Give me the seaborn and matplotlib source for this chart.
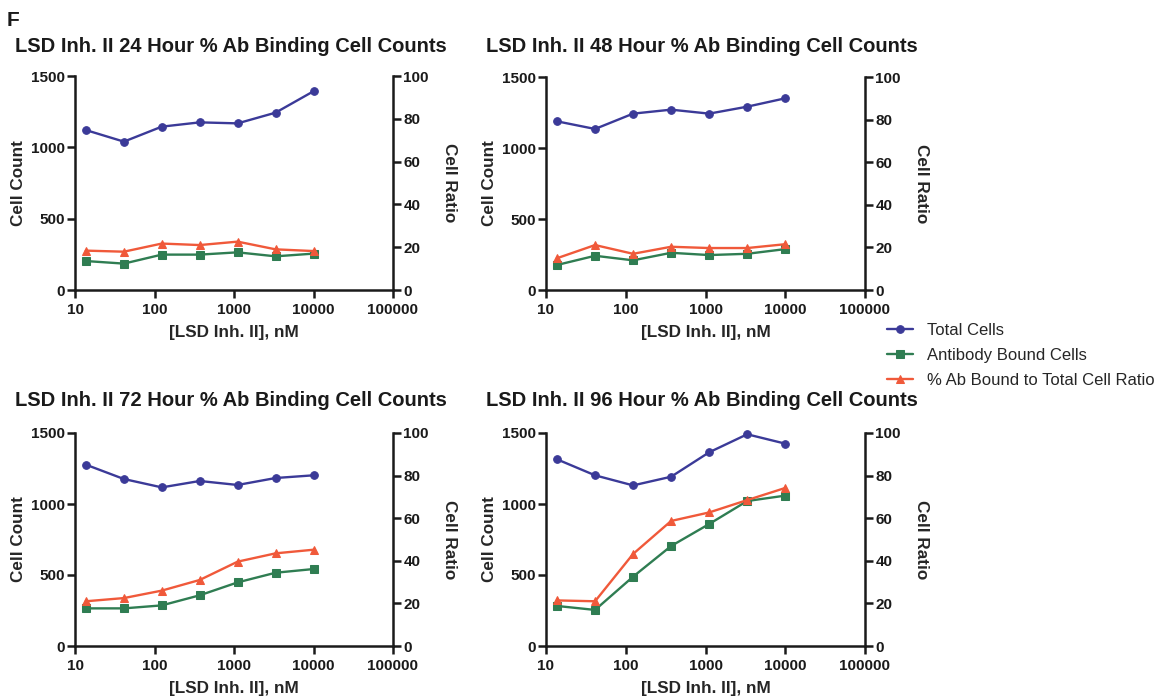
import matplotlib
matplotlib.use("Agg")
import matplotlib.pyplot as plt
import seaborn as sns
import numpy as np

# concentrations (3-fold dilution series), nM
conc = [13.7, 41.2, 123.5, 370.4, 1111, 3333, 10000]

# cell counts (left axis) and % ratio (right axis)
total_24 = [1121, 1040, 1145, 1175, 1168, 1243, 1393]
bound_24 = [203, 185, 248, 248, 264, 236, 255]
ratio_24 = [18.4, 17.9, 21.7, 21.0, 22.6, 19.0, 18.2]

total_48 = [1188, 1134, 1242, 1270, 1242, 1291, 1350]
bound_48 = [176, 241, 209, 262, 246, 255, 288]
ratio_48 = [14.9, 21.1, 17.0, 20.3, 19.7, 19.7, 21.5]

total_72 = [1277, 1176, 1117, 1162, 1134, 1183, 1202]
bound_72 = [265, 265, 286, 357, 448, 516, 542]
ratio_72 = [21.0, 22.5, 26.0, 31.0, 39.6, 43.5, 45.2]

total_96 = [1315, 1202, 1131, 1192, 1364, 1491, 1425]
bound_96 = [282, 254, 488, 704, 859, 1021, 1059]
ratio_96 = [21.4, 21.0, 43.2, 58.7, 62.7, 68.5, 74.2]

hours = ["24", "48", "72", "96"]
totals = [total_24, total_48, total_72, total_96]
bounds = [bound_24, bound_48, bound_72, bound_96]
ratios = [ratio_24, ratio_48, ratio_72, ratio_96]

xticks = [10, 100, 1000, 10000, 100000]
xtick_labels = ["10", "100", "1000", "10000", "100000"]

c_total = "#3b3a98"
c_bound = "#2f7d52"
c_ratio = "#f0593a"

sns.set_style("ticks")
plt.rcParams["font.family"] = ["Liberation Sans", "DejaVu Sans"]
plt.rcParams["font.weight"] = "bold"

fig = plt.figure(figsize=(11.6, 6.96), dpi=100)
W, H = 1160.0, 696.0

# axes boxes in pixels: left, top, right, bottom
boxes = [(75, 76, 393, 290), (546, 77, 865, 290),
         (75, 433, 393, 646), (546, 433, 865, 646)]
title_pos = [(15, 46), (486, 46), (15, 401), (486, 401)]

handles = None
for i in range(4):
    l, t, r, b = boxes[i]
    ax = fig.add_axes([l / W, 1 - b / H, (r - l) / W, (b - t) / H])
    ax2 = ax.twinx()

    sns.lineplot(x=conc, y=totals[i], ax=ax, color=c_total, marker="o",
                 markersize=5.5, markeredgecolor=c_total, linewidth=1.7,
                 label="Total Cells", clip_on=False)
    sns.lineplot(x=conc, y=bounds[i], ax=ax, color=c_bound, marker="s",
                 markersize=5.5, markeredgecolor=c_bound, linewidth=1.7,
                 label="Antibody Bound Cells", clip_on=False)
    sns.lineplot(x=conc, y=ratios[i], ax=ax2, color=c_ratio, marker="^",
                 markersize=5.5, markeredgecolor=c_ratio, linewidth=1.7,
                 label="% Ab Bound to Total Cell Ratio", clip_on=False)

    if handles is None:
        h1, l1 = ax.get_legend_handles_labels()
        h2, l2 = ax2.get_legend_handles_labels()
        handles = (h1 + h2, l1 + l2)
    ax.get_legend().remove()
    ax2.get_legend().remove()

    ax.set_xscale("log")
    ax.set_xlim(10, 100000)
    ax.set_xticks(xticks)
    ax.set_xticklabels(xtick_labels)
    ax.xaxis.set_minor_locator(matplotlib.ticker.NullLocator())
    ax.set_ylim(0, 1500)
    ax.set_yticks([0, 500, 1000, 1500])
    ax2.set_ylim(0, 100)
    ax2.set_yticks([0, 20, 40, 60, 80, 100])

    ax.spines["top"].set_visible(False)
    ax.spines["right"].set_visible(False)
    for s in ["top", "left", "bottom"]:
        ax2.spines[s].set_visible(False)
    for s in ["left", "bottom"]:
        ax.spines[s].set_linewidth(1.8)
        ax.spines[s].set_color("#1a1a1a")
    ax2.spines["right"].set_linewidth(1.8)
    ax2.spines["right"].set_color("#1a1a1a")

    for a in (ax, ax2):
        a.tick_params(axis="both", direction="out", length=6, width=1.8,
                      labelsize=11, pad=1.5, colors="#1a1a1a")
        a.tick_params(axis="x", pad=3)
        for lab in a.get_xticklabels() + a.get_yticklabels():
            lab.set_fontweight("bold")

    ax.set_xlabel("[LSD Inh. II], nM", fontsize=12.3, fontweight="bold",
                  labelpad=6)
    ax.set_ylabel("Cell Count", fontsize=12.3, fontweight="bold", labelpad=3)
    ax2.set_ylabel("Cell Ratio", fontsize=12.3, fontweight="bold",
                   rotation=270, labelpad=20)

    tx, ty = title_pos[i]
    fig.text(tx / W, 1 - ty / H,
             "LSD Inh. II " + hours[i] + " Hour % Ab Binding Cell Counts",
             fontsize=14.5, fontweight="bold", ha="left", va="center",
             color="#1a1a1a")

fig.text(7 / W, 1 - 20 / H, "F", fontsize=15, fontweight="bold",
         ha="left", va="center", color="#1a1a1a")

fig.legend(handles[0], handles[1], loc="upper left",
           bbox_to_anchor=(880 / W, 1 - 316 / H), frameon=False,
           prop={"size": 12, "weight": "normal"}, handlelength=1.6,
           handletextpad=0.8, labelspacing=0.6, borderaxespad=0)

fig.savefig("out.png", dpi=100)
